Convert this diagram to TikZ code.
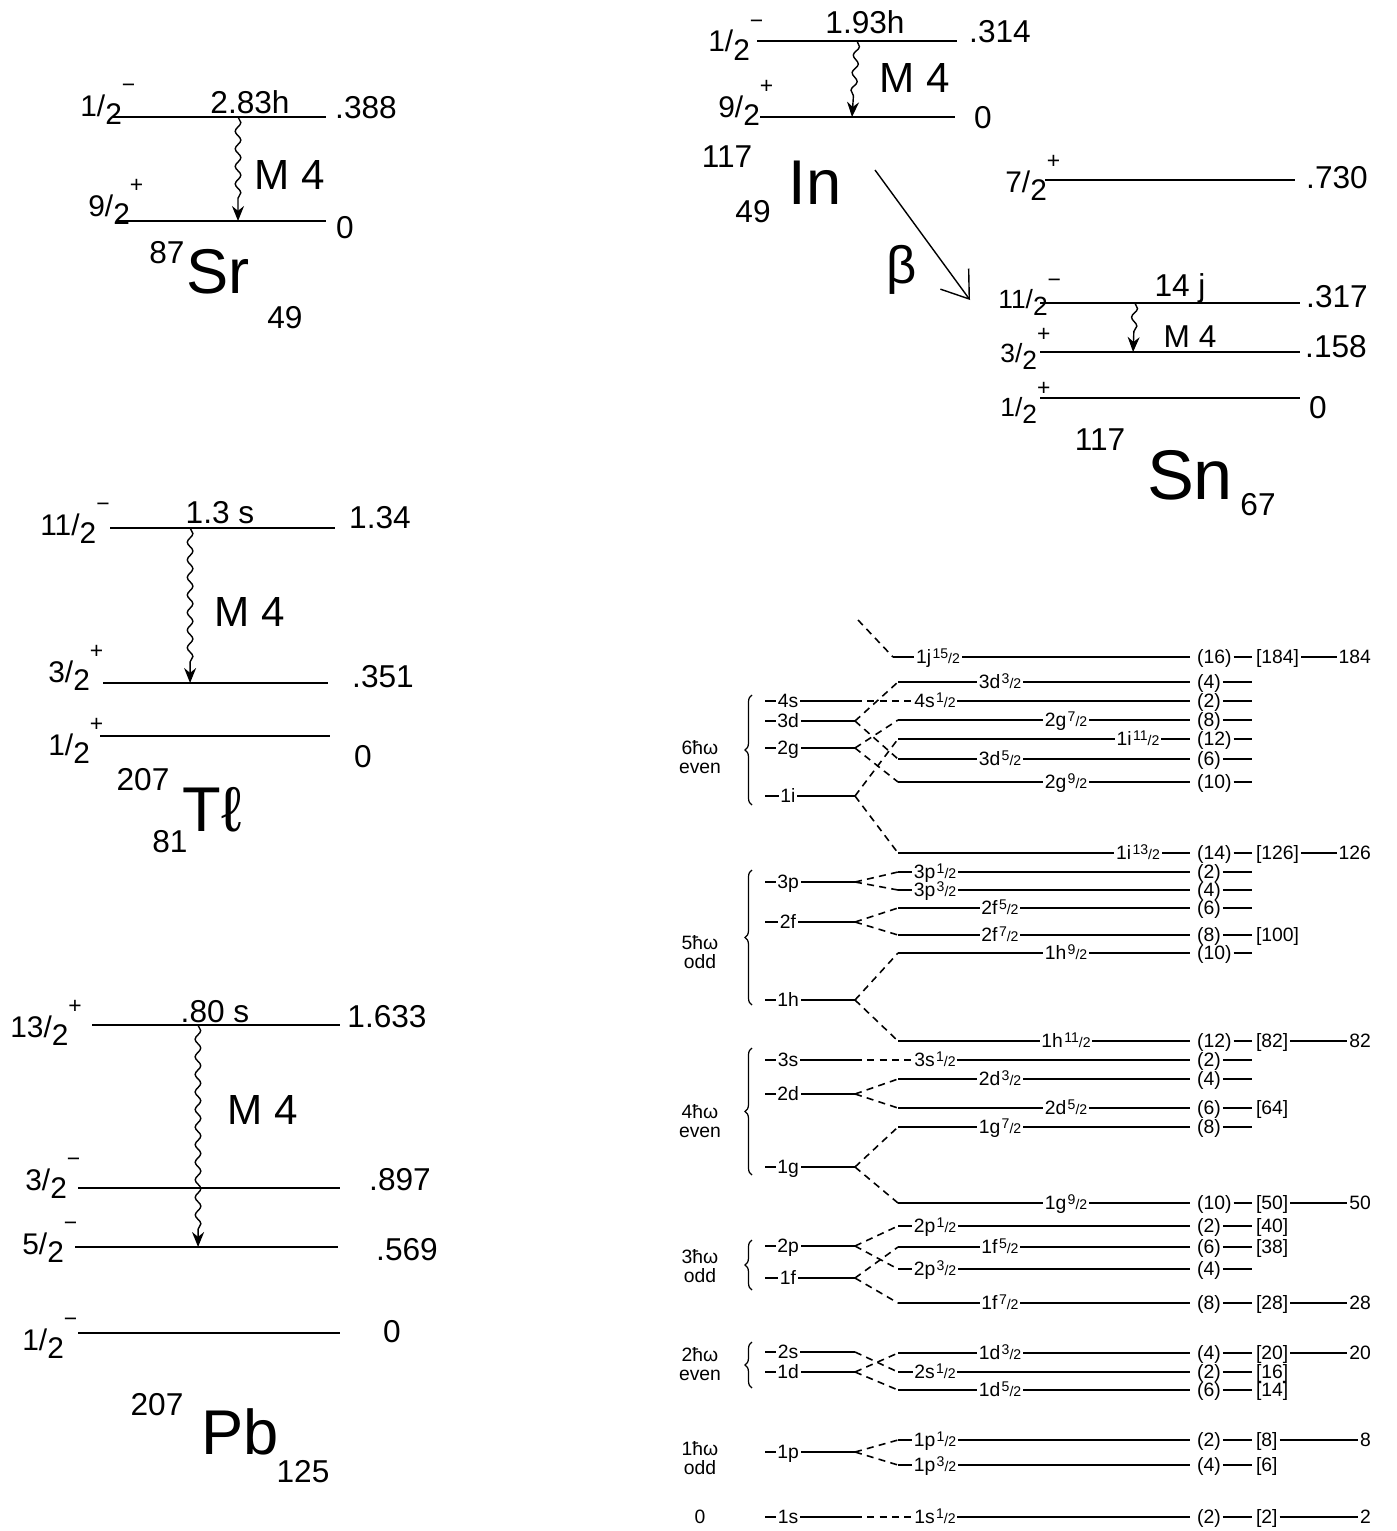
\documentclass[tikz,border=0pt]{standalone}
\usepackage{fontspec}
\setmainfont{Liberation Sans}
\usepackage{tikz}
\usetikzlibrary{arrows.meta, decorations.pathmorphing, decorations.pathreplacing}

\newcommand{\jpi}[3]{#1/\raisebox{-0.55ex}{#2}\raisebox{1.5ex}{\fontsize{13}{13}\selectfont#3}}
\newcommand{\sfr}[2]{{\fontsize{8}{8}\selectfont\kern0.1em\raisebox{0.7ex}{#1}/#2}}

\begin{document}
\begin{tikzpicture}[
    x=0.02cm, y=-0.02cm,
    lvline/.style={line width=1pt},
    gam/.style={decorate, decoration={snake, amplitude=1.6pt, segment length=10pt, post length=3mm}, -{Stealth[length=3mm, width=2.4mm]}, line width=0.8pt},
    hw/.style={font=\fontsize{18}{20}\selectfont, inner sep=0pt},
    jp/.style={font=\fontsize{17}{19}\selectfont, inner sep=0pt, anchor=base west},
    jps/.style={font=\fontsize{15}{17}\selectfont, inner sep=0pt, anchor=base west},
    mult/.style={font=\fontsize{24}{26}\selectfont, inner sep=0pt},
    elem/.style={font=\fontsize{36}{38}\selectfont, inner sep=0pt},
    sh/.style={font=\fontsize{11}{12}\selectfont, inner xsep=1pt, inner ysep=0pt, text height=7.5pt, text depth=0pt},
    osc/.style={font=\fontsize{11}{11}\selectfont, align=center, inner sep=0pt},
    slev/.style={line width=1.3pt},
    dashseg/.style={line width=1pt},
    splitln/.style={line width=0.9pt, dash pattern=on 4pt off 3pt},
    brc/.style={decorate, decoration={brace, amplitude=4pt}, line width=0.7pt},
]
\useasboundingbox (0,0) rectangle (1396,1531);

\draw[lvline] (113,117) -- coordinate[pos=0.587] (srTop) (326,117);
\draw[lvline] (116,221) -- coordinate[pos=0.581] (srBot) (326,221);
\draw[gam] (srTop) -- (srBot);
\node[jp] (srJa) at (80,116) {\jpi{1}{2}{−}};
\node[hw] (srT) at (250,102) {2.83h};
\node[hw] (srEa) at (366,108) {.388};
\node[jp] (srJb) at (88,216) {\jpi{9}{2}{+}};
\node[hw] (srEb) at (345,228) {0};
\node[mult] (srM) at (290,175) {M 4};
\node[hw] (srA) at (167,253) {87};
\node[elem] (srX) at (218,272) {Sr};
\node[hw] (srZ) at (285,318) {49};

\draw[lvline] (110,528) -- coordinate[pos=0.356] (tlTop) (335,528);
\draw[lvline] (103,683) -- coordinate[pos=0.387] (tlBot) (328,683);
\draw[lvline] (100,736) -- (330,736);
\draw[gam] (tlTop) -- (tlBot);
\node[jp] (tlJa) at (40,535) {\jpi{11}{2}{−}};
\node[hw] (tlT) at (220,513) {1.3 s};
\node[hw] (tlEa) at (380,518) {1.34};
\node[jp] (tlJb) at (48,682) {\jpi{3}{2}{+}};
\node[hw] (tlEb) at (383,677) {.351};
\node[jp] (tlJc) at (48,755) {\jpi{1}{2}{+}};
\node[hw] (tlEc) at (363,757) {0};
\node[mult] (tlM) at (250,612) {M 4};
\node[hw] (tlA) at (143,780) {207};
\node[elem] (tlX) at (212,810) {Tℓ};
\node[hw] (tlZ) at (170,842) {81};

\draw[lvline] (92,1025) -- coordinate[pos=0.427] (pbTop) (340,1025);
\draw[lvline] (78,1188) -- (340,1188);
\draw[lvline] (75,1247) -- coordinate[pos=0.468] (pbBot) (338,1247);
\draw[lvline] (78,1333) -- (340,1333);
\draw[gam] (pbTop) -- (pbBot);
\node[jp] (pbJa) at (10,1037) {\jpi{13}{2}{+}};
\node[hw] (pbT) at (215,1012) {.80 s};
\node[hw] (pbEa) at (387,1017) {1.633};
\node[jp] (pbJb) at (25,1190) {\jpi{3}{2}{−}};
\node[hw] (pbEb) at (400,1180) {.897};
\node[jp] (pbJc) at (22,1254) {\jpi{5}{2}{−}};
\node[hw] (pbEc) at (407,1250) {.569};
\node[jp] (pbJd) at (22,1350) {\jpi{1}{2}{−}};
\node[hw] (pbEd) at (392,1332) {0};
\node[mult] (pbM) at (263,1110) {M 4};
\node[hw] (pbA) at (157,1405) {207};
\node[elem] (pbX) at (240,1432) {Pb};
\node[hw] (pbZ) at (303,1472) {125};

\draw[lvline] (757,41) -- coordinate[pos=0.5] (inTop) (957,41);
\draw[lvline] (760,117) -- coordinate[pos=0.472] (inBot) (955,117);
\draw[gam] (inTop) -- (inBot);
\node[jp] (inJa) at (708,52) {\jpi{1}{2}{−}};
\node[hw] (inT) at (865,22) {1.93h};
\node[hw] (inEa) at (1000,32) {.314};
\node[jp] (inJb) at (718,117) {\jpi{9}{2}{+}};
\node[hw] (inEb) at (983,118) {0};
\node[mult] (inM) at (915,78) {M 4};
\node[hw] (inA) at (727,157) {117};
\node[elem] (inX) at (815,183) {In};
\node[hw] (inZ) at (753,212) {49};
\coordinate (betaFrom) at (875,170);
\coordinate (betaTo) at (970,300);
\draw[-{Straight Barb[length=5mm, width=7mm]}, line width=0.8pt] (betaFrom) -- (betaTo);
\node[elem, font=\fontsize{30}{32}\selectfont] (beta) at (902,270) {β};

\draw[lvline] (1045,180) -- (1295,180);
\draw[lvline] (1040,303) -- coordinate[pos=0.365] (snTop) (1300,303);
\draw[lvline] (1040,352) -- coordinate[pos=0.358] (snBot) (1300,352);
\draw[lvline] (1040,398) -- (1300,398);
\draw[gam] (snTop) -- (snBot);
\node[jp] (snJa) at (1005,192) {\jpi{7}{2}{+}};
\node[hw] (snEa) at (1337,178) {.730};
\node[jps] (snJb) at (998,308) {\jpi{11}{2}{−}};
\node[hw] (snT) at (1180,288) {14 j};
\node[hw] (snEb) at (1337,297) {.317};
\node[jps] (snJc) at (1000,362) {\jpi{3}{2}{+}};
\node[hw] (snEc) at (1336,347) {.158};
\node[jps] (snJd) at (1000,416) {\jpi{1}{2}{+}};
\node[hw] (snEd) at (1318,408) {0};
\node[hw, font=\fontsize{18}{20}\selectfont] (snM) at (1190,337) {M 4};
\node[hw] (snA) at (1100,440) {117};
\node[elem, font=\fontsize{40}{42}\selectfont] (snX) at (1190,475) {Sn};
\node[hw] (snZ) at (1258,505) {67};

\foreach \y/\nm in {701/4s, 721/3d, 748/2g, 796/1i, 882/3p, 922/2f, 1000/1h, 1060/3s, 1094/2d, 1167/1g, 1246/2p, 1278/1f, 1352/2s, 1372/1d, 1452/1p, 1517/1s}{
  \draw[slev] (765,\y) -- (855,\y);
  \node[sh, fill=white] (h\nm) at (788,\y) {\nm};
  \coordinate (e\nm) at (855,\y);
}
\foreach \y/\xs/\xt/\nm/\oc in {657/893/938/1j\sfr{15}{2}/16, 682/898/1000/3d\sfr{3}{2}/4, 701/925/935/4s\sfr{1}{2}/2, 720/898/1066/2g\sfr{7}{2}/8, 739/898/1138/1i\sfr{11}{2}/12, 759/898/1000/3d\sfr{5}{2}/6, 782/898/1066/2g\sfr{9}{2}/10, 853/898/1138/1i\sfr{13}{2}/14, 872/898/935/3p\sfr{1}{2}/2, 890/898/935/3p\sfr{3}{2}/4, 908/898/1000/2f\sfr{5}{2}/6, 935/898/1000/2f\sfr{7}{2}/8, 953/898/1066/1h\sfr{9}{2}/10, 1041/898/1066/1h\sfr{11}{2}/12, 1060/925/935/3s\sfr{1}{2}/2, 1079/898/1000/2d\sfr{3}{2}/4, 1108/898/1066/2d\sfr{5}{2}/6, 1127/898/1000/1g\sfr{7}{2}/8, 1203/898/1066/1g\sfr{9}{2}/10, 1226/898/935/2p\sfr{1}{2}/2, 1247/898/1000/1f\sfr{5}{2}/6, 1269/898/935/2p\sfr{3}{2}/4, 1303/898/1000/1f\sfr{7}{2}/8, 1353/898/1000/1d\sfr{3}{2}/4, 1372/898/935/2s\sfr{1}{2}/2, 1390/898/1000/1d\sfr{5}{2}/6, 1440/898/935/1p\sfr{1}{2}/2, 1465/898/935/1p\sfr{3}{2}/4, 1517/925/935/1s\sfr{1}{2}/2}{
  \draw[slev] (\xs,\y) -- (1190,\y);
  \coordinate (s\y) at (\xs,\y);
  \node[sh, fill=white] (n\y) at (\xt,\y) {\nm};
  \node[sh, anchor=west] (o\y) at (1195,\y) {(\oc)};
  \draw[dashseg] (o\y.east) -- (1252,\y);
}
\foreach \y/\b in {657/184, 853/126, 935/100, 1041/82, 1108/64, 1203/50, 1226/40, 1247/38, 1303/28, 1353/20, 1372/16, 1390/14, 1440/8, 1465/6, 1517/2}{
  \node[sh, anchor=west] (b\y) at (1254,\y) {[\b]};
}
\foreach \y/\m in {657/184, 853/126, 1041/82, 1203/50, 1303/28, 1353/20, 1440/8, 1517/2}{
  \node[sh, anchor=east] (m\y) at (1373,\y) {\m};
  \draw[dashseg] (b\y.east) -- (m\y.west);
}

\coordinate (fromAbove) at (858,620);
\draw[splitln] (fromAbove) -- (s657);
\draw[splitln] (e4s) -- (n701.west);
\draw[splitln] (e3d) -- (s682);
\draw[splitln] (e3d) -- (s759);
\draw[splitln] (e2g) -- (s720);
\draw[splitln] (e2g) -- (s782);
\draw[splitln] (e1i) -- (s739);
\draw[splitln] (e1i) -- (s853);
\draw[splitln] (e3p) -- (s872);
\draw[splitln] (e3p) -- (s890);
\draw[splitln] (e2f) -- (s908);
\draw[splitln] (e2f) -- (s935);
\draw[splitln] (e1h) -- (s953);
\draw[splitln] (e1h) -- (s1041);
\draw[splitln] (e3s) -- (n1060.west);
\draw[splitln] (e2d) -- (s1079);
\draw[splitln] (e2d) -- (s1108);
\draw[splitln] (e1g) -- (s1127);
\draw[splitln] (e1g) -- (s1203);
\draw[splitln] (e2p) -- (s1226);
\draw[splitln] (e2p) -- (s1269);
\draw[splitln] (e1f) -- (s1247);
\draw[splitln] (e1f) -- (s1303);
\draw[splitln] (e2s) -- (s1372);
\draw[splitln] (e1d) -- (s1353);
\draw[splitln] (e1d) -- (s1390);
\draw[splitln] (e1p) -- (s1440);
\draw[splitln] (e1p) -- (s1465);
\draw[splitln] (e1s) -- (n1517.west);

\node[osc] (osc6) at (700,757) {6ħω\\even};
\node[osc] (osc5) at (700,952) {5ħω\\odd};
\node[osc] (osc4) at (700,1121) {4ħω\\even};
\node[osc] (osc3) at (700,1266) {3ħω\\odd};
\node[osc] (osc2) at (700,1364) {2ħω\\even};
\node[osc] (osc1) at (700,1458) {1ħω\\odd};
\node[osc] (osc0) at (700,1517) {0};
\draw[brc] (752,805) -- (752,695);
\draw[brc] (752,1005) -- (752,870);
\draw[brc] (752,1175) -- (752,1048);
\draw[brc] (752,1290) -- (752,1240);
\draw[brc] (752,1388) -- (752,1342);
\end{tikzpicture}
\end{document}
